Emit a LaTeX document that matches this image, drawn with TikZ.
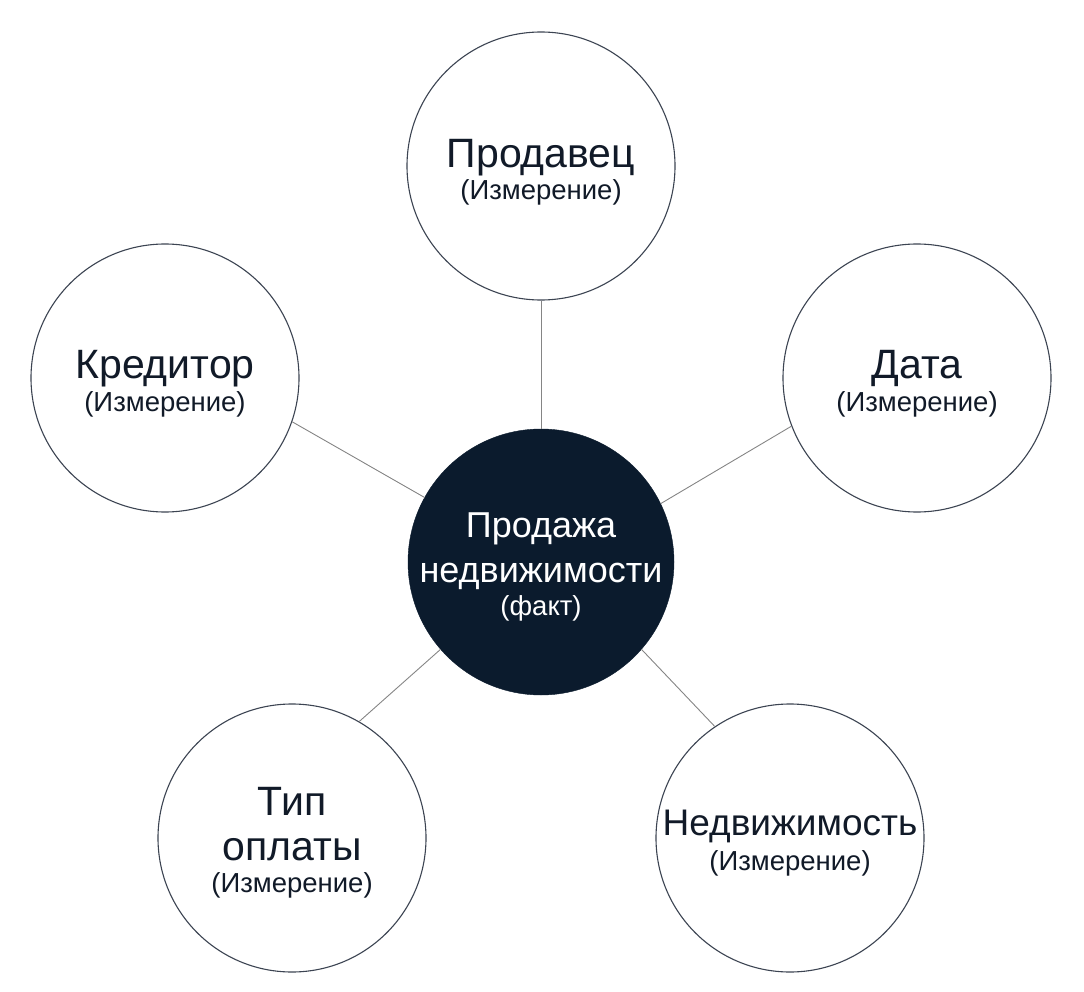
\documentclass[tikz,border=0pt]{standalone}
\usepackage{fontspec}
\setmainfont{Liberation Sans}
\definecolor{navy}{HTML}{0B1B2D}
\definecolor{ink}{HTML}{111A28}
\definecolor{rim}{HTML}{3C4452}
\definecolor{wire}{HTML}{858585}
\begin{document}
\begin{tikzpicture}[x=1pt,y=-1pt,
  dim/.style={circle,draw=rim,line width=1.1pt,fill=white,minimum size=268pt,inner sep=0pt},
  fact/.style={circle,draw=navy,fill=navy,minimum size=266pt,inner sep=0pt},
  ttl/.style={anchor=base,inner sep=0pt,text=ink,font=\fontsize{41}{41}\selectfont},
  ttlsm/.style={anchor=base,inner sep=0pt,text=ink,font=\fontsize{37}{37}\selectfont},
  sub/.style={anchor=base,inner sep=0pt,text=ink,font=\fontsize{27.5}{27.5}\selectfont},
  wttl/.style={anchor=base,inner sep=0pt,text=white,font=\fontsize{36}{36}\selectfont},
  wsub/.style={anchor=base,inner sep=0pt,text=white,font=\fontsize{27.5}{27.5}\selectfont},
  wirel/.style={draw=wire,line width=0.9pt}]
\useasboundingbox (0,0) rectangle (1084,992);
% circles
\node[fact] (fact) at (541,562) {};
\node[dim] (seller) at (541,166) {};
\node[dim] (lender) at (165,378) {};
\node[dim] (date) at (917,378) {};
\node[dim] (pay) at (292,838) {};
\node[dim] (prop) at (790,838) {};
% connectors
\draw[wirel] (fact.90) -- (seller.-90);
\draw[wirel] (fact.151.5) -- (lender.-19);
\draw[wirel] (fact.26) -- (date.201.4);
\draw[wirel] (fact.221.7) -- (pay.60);
\draw[wirel] (fact.-41.7) -- (prop.124.5);
% texts
\node[wttl] (f1) at (541,537) {Продажа};
\node[wttl] (f2) at (541,582) {недвижимости};
\node[wsub] (f3) at (541,615) {(факт)};
\node[ttl] (s1) at (541,168) {Продавец};
\node[sub] (s2) at (541,200) {(Измерение)};
\node[ttl] (l1) at (165,378) {Кредитор};
\node[sub] (l2) at (165,411) {(Измерение)};
\node[ttl] (d1) at (917,378) {Дата};
\node[sub] (d2) at (917,411) {(Измерение)};
\node[ttl] (p1) at (292,815) {Тип};
\node[ttl] (p2) at (292,860) {оплаты};
\node[sub] (p3) at (292,892) {(Измерение)};
\node[ttlsm] (r1) at (790,835) {Недвижимость};
\node[sub] (r2) at (790,870) {(Измерение)};
\end{tikzpicture}
\end{document}
